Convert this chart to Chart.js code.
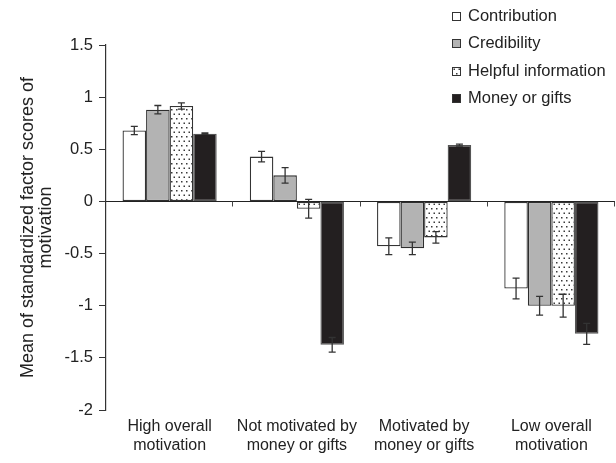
<!DOCTYPE html>
<html>
<head>
<meta charset="utf-8">
<script src="https://cdn.jsdelivr.net/npm/chart.js@4/dist/chart.umd.min.js"></script>
<style>
  html, body { margin: 0; padding: 0; background: #ffffff; }
  #wrap { width: 616px; height: 463px; }
</style>
</head>
<body>
<div id="wrap"><canvas id="chart" width="616" height="463"></canvas></div>
<script>
// Motivation clusters and mean factor scores
const categories = [
  ["High overall", "motivation"],
  ["Not motivated by", "money or gifts"],
  ["Motivated by", "money or gifts"],
  ["Low overall", "motivation"]
];
const seriesNames = ["Contribution", "Credibility", "Helpful information", "Money or gifts"];

const contribution = [0.68, 0.43, -0.43, -0.835];
const credibility  = [0.88, 0.25, -0.45, -1.0];
const helpfulInfo  = [0.915, -0.07, -0.345, -1.0];
const moneyGifts   = [0.65, -1.375, 0.54, -1.27];

// Standard errors
const contributionErr = [0.04, 0.05, 0.08, 0.10];
const credibilityErr  = [0.04, 0.075, 0.06, 0.09];
const helpfulInfoErr  = [0.03, 0.09, 0.055, 0.11];
const moneyGiftsErr   = [0.006, 0.07, 0.01, 0.10];

const yTicks = { min: -2, max: 1.5, step: 0.5 };

// Dotted fill for the "Helpful information" series
function makeDotPattern() {
  const c = document.createElement('canvas');
  c.width = 5; c.height = 9;
  const g = c.getContext('2d');
  g.fillStyle = '#ffffff';
  g.fillRect(0, 0, 5, 9);
  g.fillStyle = '#3a3a3a';
  g.fillRect(1, 1, 1.5, 1.5);
  g.fillRect(3.5, 5.5, 1.5, 1.5);
  return g.createPattern(c, 'repeat');
}
const dotPattern = makeDotPattern();

const fills = ['#ffffff', '#b3b3b3', dotPattern, '#231f20'];
const borders = ['#333333', '#2e2e2e', '#333333', '#555555'];
const values = [contribution, credibility, helpfulInfo, moneyGifts];
const errors = [contributionErr, credibilityErr, helpfulInfoErr, moneyGiftsErr];

const FONT = "'Liberation Sans', Arial, sans-serif";
Chart.defaults.font.family = FONT;
Chart.defaults.font.size = 16;
Chart.defaults.color = '#222222';

// Zero baseline with category separator ticks
const zeroLinePlugin = {
  id: 'zeroLine',
  beforeDatasetsDraw(chart) {
    const { ctx, chartArea, scales } = chart;
    const y0 = Math.round(scales.y.getPixelForValue(0)) + 0.5;
    ctx.save();
    ctx.strokeStyle = '#222';
    ctx.lineWidth = 1.2;
    ctx.beginPath();
    ctx.moveTo(chartArea.left, y0);
    ctx.lineTo(chartArea.right, y0);
    ctx.stroke();
    const n = categories.length;
    const step = (chartArea.right - chartArea.left) / n;
    ctx.lineWidth = 1;
    ctx.strokeStyle = '#444';
    for (let i = 1; i <= n; i++) {
      const x = Math.round(chartArea.left + step * i) - 0.5;
      ctx.beginPath();
      ctx.moveTo(x, y0);
      ctx.lineTo(x, y0 + 5);
      ctx.stroke();
    }
    ctx.restore();
  }
};

// Error bars drawn from each dataset's error array
const errorBarPlugin = {
  id: 'errorBars',
  afterDatasetsDraw(chart) {
    const { ctx, scales } = chart;
    ctx.save();
    ctx.strokeStyle = '#333333';
    ctx.lineWidth = 1.3;
    chart.data.datasets.forEach((ds, di) => {
      const meta = chart.getDatasetMeta(di);
      meta.data.forEach((bar, i) => {
        const v = ds.data[i];
        const e = ds.errors[i];
        const yHi = scales.y.getPixelForValue(v + e);
        const yLo = scales.y.getPixelForValue(v - e);
        const x = bar.x;
        const cap = 3.5;
        ctx.beginPath();
        ctx.moveTo(x, yHi); ctx.lineTo(x, yLo);
        ctx.moveTo(x - cap, yHi); ctx.lineTo(x + cap, yHi);
        ctx.moveTo(x - cap, yLo); ctx.lineTo(x + cap, yLo);
        ctx.stroke();
      });
    });
    ctx.restore();
  }
};

// Legend stacked at the top right
const legendPlugin = {
  id: 'cornerLegend',
  afterDraw(chart) {
    const { ctx } = chart;
    const boxX = 452, textX = 468, size = 9;
    const rowsY = [16, 43.5, 71, 98.5];
    ctx.save();
    ctx.font = "16.5px " + FONT;
    ctx.textBaseline = 'middle';
    ctx.textAlign = 'left';
    chart.data.datasets.forEach((ds, i) => {
      const y = rowsY[i];
      ctx.fillStyle = ds.backgroundColor;
      ctx.fillRect(boxX, y - size / 2, size, size);
      ctx.strokeStyle = '#333';
      ctx.lineWidth = 1;
      ctx.strokeRect(boxX + 0.5, Math.round(y - size / 2) + 0.5, size - 1, size - 1);
      ctx.fillStyle = '#222222';
      ctx.fillText(ds.label, textX, y);
    });
    ctx.restore();
  }
};

new Chart(document.getElementById('chart'), {
  type: 'bar',
  data: {
    labels: categories,
    datasets: seriesNames.map((name, i) => ({
      label: name,
      data: values[i],
      errors: errors[i],
      backgroundColor: fills[i],
      borderColor: borders[i],
      borderWidth: 1.3,
      borderSkipped: false,
      categoryPercentage: 0.74,
      barPercentage: 1.0
    }))
  },
  options: {
    responsive: false,
    animation: false,
    layout: { padding: { top: 45, right: 1, left: 0, bottom: 0 } },
    plugins: {
      legend: { display: false },
      tooltip: { enabled: false }
    },
    scales: {
      x: {
        grid: { display: false, drawTicks: false },
        border: { display: false },
        ticks: { padding: 7, font: { size: 16 }, maxRotation: 0, autoSkip: false },
        afterFit(scale) { scale.height = 53; }
      },
      y: {
        min: yTicks.min,
        max: yTicks.max,
        ticks: {
          stepSize: yTicks.step,
          padding: 6,
          font: { size: 16.5 },
          callback: (v) => String(v)
        },
        grid: { drawOnChartArea: false, drawTicks: true, tickLength: 7, color: '#333' },
        border: { display: true, color: '#333', width: 1.2 },
        title: {
          display: true,
          text: ["Mean of standardized factor scores of", "motivation"],
          font: { size: 18, lineHeight: 1.0 },
          padding: { top: 19, bottom: 0 }
        },
        afterFit(scale) { scale.width = 106; }
      }
    }
  },
  plugins: [zeroLinePlugin, errorBarPlugin, legendPlugin]
});
</script>
</body>
</html>
